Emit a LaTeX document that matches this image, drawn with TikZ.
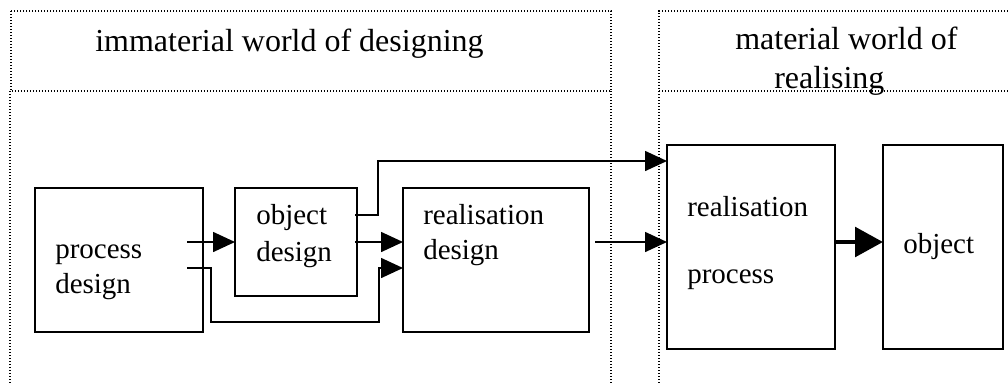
\documentclass[tikz,border=0pt]{standalone}
\usepackage{fontspec}
\setmainfont{Liberation Serif}
\usetikzlibrary{arrows.meta,calc}
\begin{document}
\begin{tikzpicture}[x=0.75pt,y=-0.75pt,
  box/.style={draw, line width=1.5pt, inner sep=0pt, outer sep=0pt, anchor=north west},
  conn/.style={line width=1.2pt, -{Triangle[length=16.5pt,width=15pt]}},
  bigarrow/.style={line width=3.6pt, -{Triangle[length=21pt,width=22pt]}},
  framedot/.style={line width=0.9pt, dash pattern=on 0.9pt off 1.35pt},
  lbl/.style={anchor=base west, inner sep=0pt, font=\fontsize{21.75pt}{26pt}\selectfont},
  head/.style={anchor=base west, inner sep=0pt, font=\fontsize{24pt}{28pt}\selectfont}]
\useasboundingbox (0,0) rectangle (1008,383);
% frames
\draw[framedot] (11,11) rectangle (611,91);
\draw[framedot] (10,91) -- (10,383);
\draw[framedot] (611,91) -- (611,383);
\draw[framedot] (1008,11) -- (659,11) -- (659,383);
\draw[framedot] (659,91) -- (1008,91);
% headers
\node[head] (h1) at (95,51) {immaterial world of designing};
\node[head] (h2) at (735,49) {material world of};
\node[head] (h3) at (774,88) {realising};
% boxes
\node[box, minimum width=126pt, minimum height=108pt] (pd) at (35,188) {};
\node[box, minimum width=91.5pt, minimum height=81pt] (od) at (235,188) {};
\node[box, minimum width=139.5pt, minimum height=108pt] (rd) at (403,188) {};
\node[box, minimum width=126pt, minimum height=153pt] (rp) at (667,145) {};
\node[box, minimum width=90pt, minimum height=153pt] (ob) at (883,145) {};
% labels
\node[lbl] (l1) at (55,258) {process};
\node[lbl] (l2) at (55,293) {design};
\node[lbl] (l3) at (256,224) {object};
\node[lbl] (l4) at (256,261) {design};
\node[lbl] (l5) at (423,224) {realisation};
\node[lbl] (l6) at (423,259) {design};
\node[lbl] (l7) at (687,216) {realisation};
\node[lbl] (l8) at (687,283) {process};
\node[lbl] (l9) at (903,253) {object};
% connectors
\draw[conn] ([xshift=-12pt]pd.east |- od.west) -- (od.west);
\draw[conn] ([xshift=-12pt,yshift=-6pt]pd.east) -- ++(24,0) -- ++(0,54) -| ([xshift=-18pt,yshift=-6pt]rd.west) -- ([yshift=-6pt]rd.west);
\draw[conn] ([xshift=-1.5pt]od.east) -- (od.east -| rd.west);
\draw[conn] ([xshift=-1.5pt,yshift=20.25pt]od.east) -- ++(23,0) |- ([yshift=64.5pt]rp.west);
\draw[conn] ([xshift=4.5pt,yshift=13.5pt]rd.east) -- ([yshift=3.75pt]rp.west);
\draw[bigarrow] ([yshift=3.75pt]rp.east) -- ([yshift=3.75pt]ob.west);
\end{tikzpicture}
\end{document}
